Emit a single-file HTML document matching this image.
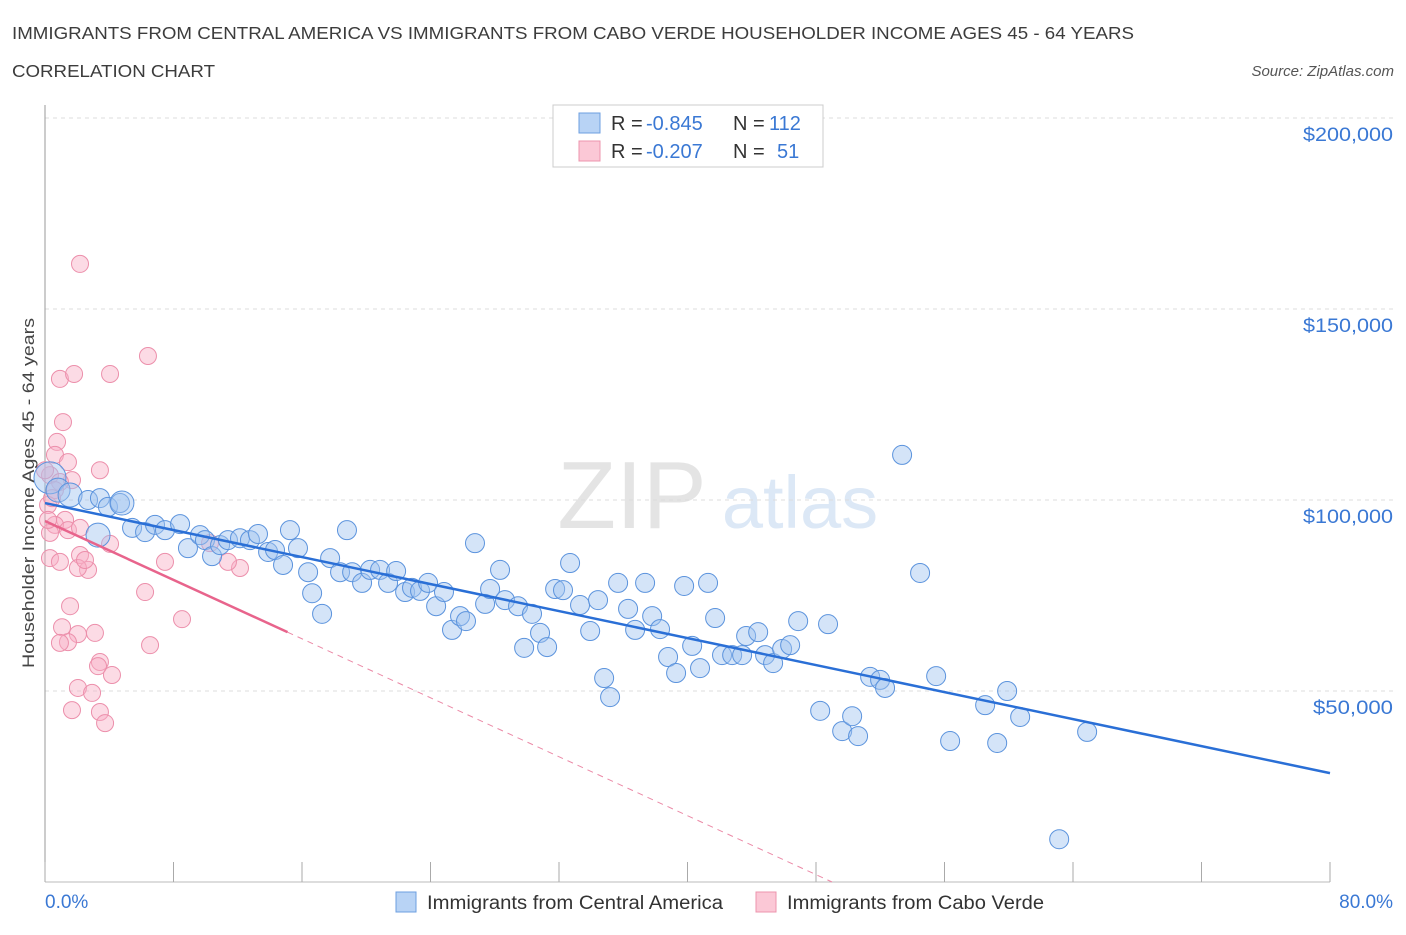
<!DOCTYPE html>
<html><head><meta charset="utf-8"><style>
body{margin:0;background:#fff;font-family:"Liberation Sans",sans-serif;}
svg text{font-family:"Liberation Sans",sans-serif;}
</style></head><body>
<svg id="chart" width="1406" height="930" xmlns="http://www.w3.org/2000/svg">
<text x="12" y="39" font-size="17.5" fill="#3c3c3c" textLength="1122" lengthAdjust="spacingAndGlyphs">IMMIGRANTS FROM CENTRAL AMERICA VS IMMIGRANTS FROM CABO VERDE HOUSEHOLDER INCOME AGES 45 - 64 YEARS</text>
<text x="12" y="77" font-size="17.5" fill="#3c3c3c" textLength="203" lengthAdjust="spacingAndGlyphs">CORRELATION CHART</text>
<text x="1394" y="76" font-size="15" font-style="italic" fill="#555" text-anchor="end">Source: ZipAtlas.com</text>
<g>
<text x="632" y="528" font-size="96" font-family="Liberation Serif,serif" fill="#e4e4e4" text-anchor="middle">ZIP</text>
<text x="800" y="528" font-size="74" fill="#dce8f6" text-anchor="middle">atlas</text>
</g>
<g id="grid"></g>
<line x1="45" y1="105" x2="45" y2="882" stroke="#999" stroke-width="1"/>
<line x1="45" y1="882" x2="1330" y2="882" stroke="#bbb" stroke-width="1"/>
<g id="xticks"></g>
<g id="marks"></g>
<text transform="translate(34,493) rotate(-90)" font-size="17" fill="#444" text-anchor="middle" textLength="350" lengthAdjust="spacingAndGlyphs">Householder Income Ages 45 - 64 years</text>
<text x="45" y="908" font-size="19" fill="#3a78d4">0.0%</text>
<text x="1393" y="908" font-size="19" fill="#3a78d4" text-anchor="end">80.0%</text>
<g>
<rect x="553" y="105" width="270" height="62" fill="#fff" stroke="#ccc"/>
<rect x="579" y="113" width="21" height="20" fill="#b8d3f5" stroke="#6d9fe0"/>
<rect x="579" y="141" width="21" height="20" fill="#fbc8d6" stroke="#ec94ad"/>
<text x="611" y="130" font-size="20" fill="#333">R =</text>
<text x="646" y="130" font-size="20" fill="#3a78d4">-0.845</text>
<text x="733" y="130" font-size="20" fill="#333">N =</text>
<text x="769" y="130" font-size="20" fill="#3a78d4">112</text>
<text x="611" y="158" font-size="20" fill="#333">R =</text>
<text x="646" y="158" font-size="20" fill="#3a78d4">-0.207</text>
<text x="733" y="158" font-size="20" fill="#333">N =</text>
<text x="777" y="158" font-size="20" fill="#3a78d4">51</text>
</g>
<g>
<rect x="396" y="892" width="20" height="20" fill="#b8d3f5" stroke="#6d9fe0"/>
<text x="427" y="909" font-size="19" fill="#333" textLength="296" lengthAdjust="spacingAndGlyphs">Immigrants from Central America</text>
<rect x="756" y="892" width="20" height="20" fill="#fbc8d6" stroke="#ec94ad"/>
<text x="787" y="909" font-size="19" fill="#333" textLength="257" lengthAdjust="spacingAndGlyphs">Immigrants from Cabo Verde</text>
</g>
</svg>
<script>
const yTicks=[50000,100000,150000,200000];
const yTickLabels=["$50,000","$100,000","$150,000","$200,000"];
const xTicks=[0,8,16,24,32,40,48,56,64,72,80];
const blueX=[0.31,0.81,1.56,2.68,3.42,3.92,4.67,5.42,6.23,6.85,7.47,8.41,8.90,9.65,9.96,10.40,10.90,11.39,12.14,12.76,13.26,13.89,14.32,14.82,15.25,15.75,16.38,16.63,17.25,17.75,18.37,18.80,19.12,19.74,20.24,20.86,21.36,21.86,22.42,22.85,23.35,23.85,24.35,24.84,25.34,25.84,26.21,26.77,27.40,27.71,28.33,28.64,29.45,29.83,30.32,30.82,31.26,31.76,32.25,32.69,33.31,33.94,34.43,34.81,35.18,35.68,36.30,36.74,37.36,37.80,38.29,38.79,39.29,39.79,40.29,40.78,41.28,41.72,42.15,42.78,43.40,43.65,44.40,44.83,45.33,45.89,46.39,46.89,48.26,48.75,49.63,50.25,50.62,51.37,51.99,52.30,53.36,54.48,55.48,56.35,58.53,59.28,59.90,60.71,63.14,64.88,4.79,3.30];
const blueY=[105.8,102.6,101.3,100.0,100.5,98.2,99.2,92.7,91.6,93.5,92.1,93.7,87.4,90.8,89.5,85.3,88.2,89.5,90.0,89.5,91.1,86.4,86.9,83.0,92.1,87.4,81.1,75.6,70.2,84.8,81.1,92.1,81.1,78.3,81.7,81.7,78.3,81.4,75.9,77.0,76.2,78.3,72.2,75.9,66.0,69.6,68.3,88.7,72.8,76.7,81.7,73.8,72.2,61.3,70.2,65.2,61.5,76.7,76.4,83.5,72.5,65.7,73.8,53.4,48.4,78.3,71.5,66.0,78.3,69.6,66.2,58.9,54.7,77.5,61.8,56.0,78.3,69.1,59.4,59.4,59.4,64.4,65.4,59.4,57.3,61.0,62.0,68.3,44.8,67.5,39.5,43.4,38.2,53.7,52.9,50.8,111.8,80.9,53.9,36.9,46.3,36.4,50.0,43.2,11.2,39.3,99.2,90.8];
const pinkX=[2.18,6.41,0.93,1.81,4.05,1.12,0.75,0.62,1.43,1.68,0.31,0.93,0.62,0.19,1.25,0.62,1.43,2.18,0.31,4.05,2.18,0.31,0.93,2.68,2.05,7.47,12.14,6.23,1.56,8.53,1.06,3.11,2.05,1.43,0.93,3.42,3.30,4.17,2.05,2.93,1.68,3.42,3.74,0.44,0.0,10.27,11.39,6.54,0.19,3.42,2.49];
const pinkY=[161.8,137.7,131.7,133.0,133.0,120.4,115.2,111.8,109.9,105.2,106.5,104.7,102.6,98.7,94.8,93.5,92.1,92.7,91.4,88.5,85.6,84.8,83.8,81.7,82.2,83.8,82.2,75.9,72.2,68.8,66.7,65.2,64.9,62.8,62.6,57.6,56.5,54.2,50.8,49.5,45.0,44.5,41.6,100.5,107.8,88.7,83.8,62.0,94.8,107.8,84.3];
const blueTrend=[[0,99.2],[80,28.5]];
const pinkTrend=[[0,94.5],[15.1,65.4]];
const pinkDash=[[15.1,65.4],[49.0,0]];
const NS='http://www.w3.org/2000/svg';
const xs=v=>45+v*(1285/80);
const ys=k=>882-k*(191/50);
function mk(tag,attrs,parent){const e=document.createElementNS(NS,tag);for(const k in attrs)e.setAttribute(k,attrs[k]);parent.appendChild(e);return e;}
const grid=document.getElementById('grid'),xt=document.getElementById('xticks'),marks=document.getElementById('marks');
yTicks.forEach((t,i)=>{
 const l=mk('line',{x1:45,x2:1395,y1:ys(t/1000),y2:ys(t/1000),stroke:'#ddd','stroke-dasharray':'4,4'},grid);
 
 
 const len=yTickLabels[i].length===8?90:80;
 const tx=mk('text',{x:1393,y:ys(t/1000)+23,'font-size':19,fill:'#3a78d4','text-anchor':'end',textLength:len,lengthAdjust:'spacingAndGlyphs'},grid);
 tx.textContent=yTickLabels[i];
 
 
});
xTicks.forEach(t=>{
 const l=mk('line',{x1:xs(t),x2:xs(t),y1:862,y2:882,stroke:'#aaa'},xt);
 
 
});
pinkX.forEach((x,i)=>{
 const c=mk('circle',{cx:xs(x),cy:ys(pinkY[i]),r:8.5,fill:'rgba(248,175,198,0.45)',stroke:'#ec8fab','stroke-width':1},marks);
 
 
});
blueX.forEach((x,i)=>{
 const r=i===0?16:(i<3||i>=blueX.length-2?12:9.5);
 const c=mk('circle',{cx:xs(x),cy:ys(blueY[i]),r:r,fill:'rgba(160,196,240,0.45)',stroke:'#5b93dd','stroke-width':1},marks);
 
 
});
const bl=mk('line',{x1:xs(blueTrend[0][0]),y1:ys(blueTrend[0][1]),x2:xs(blueTrend[1][0]),y2:ys(blueTrend[1][1]),stroke:'#2a6fd6','stroke-width':2.5},marks);


const pl=mk('line',{x1:xs(pinkTrend[0][0]),y1:ys(pinkTrend[0][1]),x2:xs(pinkTrend[1][0]),y2:ys(pinkTrend[1][1]),stroke:'#e8648c','stroke-width':2.5},marks);


const pd=mk('line',{x1:xs(pinkDash[0][0]),y1:ys(pinkDash[0][1]),x2:xs(pinkDash[1][0]),y2:ys(pinkDash[1][1]),stroke:'#eb8aa7','stroke-width':1,'stroke-dasharray':'6,5'},marks);


</script>
</body></html>
